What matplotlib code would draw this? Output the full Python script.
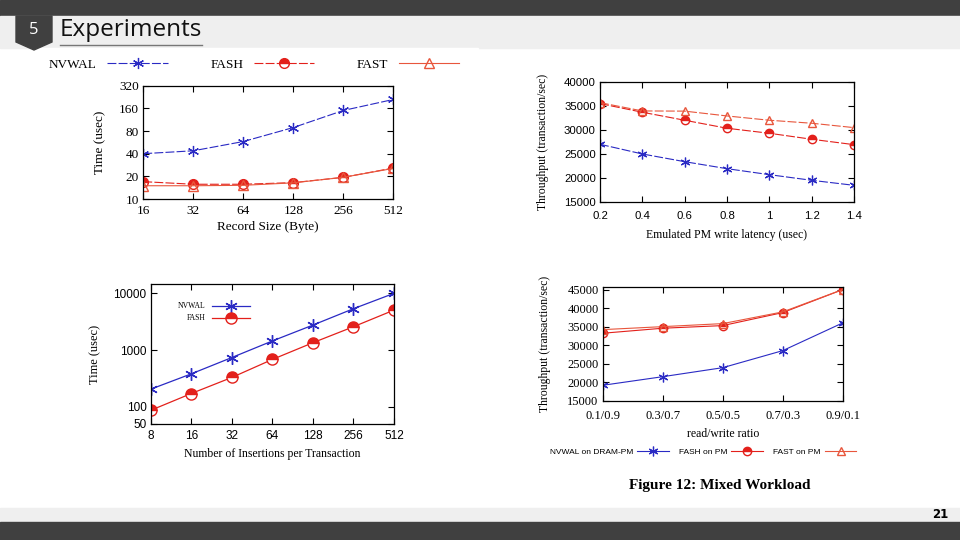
import matplotlib.pyplot as plt
import numpy as np
from matplotlib.patches import Rectangle, Polygon
from matplotlib.lines import Line2D

# ---- data ----
rec_size = [16, 32, 64, 128, 256, 512]
rec_nvwal = [40, 43.7, 58, 89, 150, 210]
rec_fash = [17, 15.7, 15.7, 16.5, 19.4, 25.8]
rec_fast = [15, 15, 15.2, 16.4, 19.4, 25.5]

lat = [0.2, 0.4, 0.6, 0.8, 1.0, 1.2, 1.4]
lat_labels = ["0.2", "0.4", "0.6", "0.8", "1", "1.2", "1.4"]
lat_nvwal = [27030, 25020, 23420, 21970, 20730, 19560, 18520]
lat_fash = [35460, 33670, 32010, 30350, 29310, 28070, 26950]
lat_fast = [35660, 33940, 33900, 32900, 32010, 31390, 30480]

ins = [8, 16, 32, 64, 128, 256, 512]
ins_nvwal = [205, 382, 740, 1450, 2760, 5360, 10000]
ins_fash = [87, 172, 330, 685, 1350, 2580, 5070]

ratio = ["0.1/0.9", "0.3/0.7", "0.5/0.5", "0.7/0.3", "0.9/0.1"]
mix_nvwal = [19170, 21500, 23940, 28550, 36060]
mix_fash = [33260, 34620, 35330, 38850, 45080]
mix_fast = [34240, 35050, 35870, 39040, 45100]

BLUE = '#2a2ac4'
RED = '#e3201b'
ORANGE = '#e8563c'
SERIF = 'Liberation Serif'
SANS = 'Liberation Sans'

W, H = 960, 540
fig = plt.figure(figsize=(9.6, 5.4), dpi=100)
fig.patch.set_facecolor('white')

def px(x, y):
    return x / W, 1 - y / H

def axes_px(x0, y0, x1, y1):
    return fig.add_axes([x0 / W, 1 - y1 / H, (x1 - x0) / W, (y1 - y0) / H])

# slide decoration
fig.add_artist(Rectangle(px(0, 16), 1, 16 / H, transform=fig.transFigure, color='#404040', zorder=0))
fig.add_artist(Rectangle(px(0, 48), 1, 32 / H, transform=fig.transFigure, color='#efefef', zorder=0))
fig.add_artist(Rectangle(px(30, 240), 448 / W, 192 / H, transform=fig.transFigure, color='white', zorder=0))
fig.add_artist(Rectangle(px(0, 522), 1, 14 / H, transform=fig.transFigure, color='#efefef', zorder=0))
fig.add_artist(Rectangle(px(0, 540), 1, 18 / H, transform=fig.transFigure, color='#404040', zorder=0))
fig.add_artist(Polygon([px(16, 16), px(52, 16), px(52, 42), px(34, 50), px(16, 42)],
                       closed=True, transform=fig.transFigure, color='#404040', zorder=1))
fig.text(*px(34, 30), "5", color='white', fontsize=12, family='Open Sans', ha='center', va='center')
fig.text(*px(60, 30), "Experiments", color='#111111', fontsize=17.5, family='Open Sans', ha='left', va='center')
fig.add_artist(Line2D([60 / W, 202 / W], [1 - 45 / H, 1 - 45 / H], transform=fig.transFigure,
                      color='#777777', lw=1))
fig.text(*px(940, 515), "21", color='black', fontsize=8.5, family='DejaVu Sans', weight='bold',
         ha='center', va='center')

def style(ax, size=8, family=SERIF, xpad=3):
    ax.tick_params(which='both', direction='in', top=True, right=True, labelsize=size, length=4,
                   width=0.8, pad=3)
    ax.tick_params(axis='x', pad=xpad)
    ax.minorticks_off()
    for lab in ax.get_xticklabels() + ax.get_yticklabels():
        lab.set_family(family)
    for s in ax.spines.values():
        s.set_linewidth(0.9)

def ast():
    return (6, 2, 0)

# ---- chart 1: record size ----
ax1 = axes_px(143.3, 85.7, 393.3, 199)
ax1.plot(rec_size, rec_nvwal, color=BLUE, lw=0.8, dashes=(8, 2), marker=ast(), ms=8, mew=0.9, label='NVWAL')
ax1.plot(rec_size, rec_fash, color=RED, lw=0.8, dashes=(8, 2), marker='o', ms=7, fillstyle='top',
         markerfacecoloralt='white', mec=RED, label='FASH')
ax1.plot(rec_size, rec_fast, color=ORANGE, lw=0.8, marker='^', ms=7, mfc='none', mec=ORANGE, label='FAST')
ax1.set_xscale('log', base=2)
ax1.set_yscale('log', base=2)
ax1.set_xlim(16, 512)
ax1.set_ylim(10, 320)
ax1.set_xticks(rec_size, [str(v) for v in rec_size])
ax1.set_yticks([10, 20, 40, 80, 160, 320], ["10", "20", "40", "80", "160", "320"])
style(ax1, 9.5, xpad=4)
ax1.set_xlabel("Record Size (Byte)", family=SERIF, fontsize=9.5, labelpad=3)
ax1.set_ylabel("Time (usec)", family=SERIF, fontsize=9.5, labelpad=9)
fig.legend(*ax1.get_legend_handles_labels(), loc='center', bbox_to_anchor=(254 / W, 1 - 65 / H), ncol=3,
           markerfirst=False, frameon=False, prop={'family': SERIF, 'size': 9.5}, handlelength=4.6,
           columnspacing=3.2, handletextpad=0.8, borderaxespad=0)

# ---- chart 2: write latency ----
ax2 = axes_px(600, 81.7, 854, 202.3)
ax2.plot(lat, lat_nvwal, color=BLUE, lw=0.8, dashes=(8, 2), marker=ast(), ms=7, mew=0.9)
ax2.plot(lat, lat_fash, color=RED, lw=0.8, dashes=(8, 2), marker='o', ms=6, fillstyle='top',
         markerfacecoloralt='white', mec=RED)
ax2.plot(lat, lat_fast, color=ORANGE, lw=0.8, dashes=(8, 2), marker='^', ms=6, mfc='none', mec=ORANGE)
ax2.set_xlim(0.2, 1.4)
ax2.set_ylim(15000, 40000)
ax2.set_xticks(lat, lat_labels)
ax2.set_yticks(np.arange(15000, 40001, 5000))
style(ax2, 8.2, SANS, xpad=6)
ax2.set_xlabel("Emulated PM write latency (usec)", family=SERIF, fontsize=8.5, labelpad=6)
ax2.set_ylabel("Throughput (transaction/sec)", family=SERIF, fontsize=8.5, labelpad=11)

# ---- chart 3: insertions per transaction ----
ax3 = axes_px(150.7, 284, 394, 424)
ax3.plot(ins, ins_nvwal, color=BLUE, lw=0.9, marker=ast(), ms=9, mew=1.0, label='NVWAL')
ax3.plot(ins, ins_fash, color=RED, lw=0.9, marker='o', ms=8, fillstyle='top',
         markerfacecoloralt='white', mec=RED, label='FASH')
ax3.set_xscale('log', base=2)
ax3.set_yscale('log')
ax3.set_xlim(8, 512)
ax3.set_ylim(50, 14600)
ax3.set_xticks(ins, [str(v) for v in ins])
ax3.set_yticks([50, 100, 1000, 10000], ["50", "100", "1000", "10000"])
style(ax3, 8.5, SANS, xpad=4)
ax3.set_xlabel("Number of Insertions per Transaction", family=SERIF, fontsize=8.5, labelpad=5)
ax3.set_ylabel("Time (usec)", family=SERIF, fontsize=9, labelpad=9)
ax3.legend(loc='upper left', bbox_to_anchor=(0.1, 0.89), markerfirst=False, frameon=False,
           prop={'family': SERIF, 'size': 5.5}, handlelength=5, handletextpad=0.8, labelspacing=0.5,
           borderaxespad=0)

# ---- chart 4: mixed workload ----
ax4 = axes_px(602.7, 287.3, 842.7, 400.7)
xr = np.arange(len(ratio))
ax4.plot(xr, mix_nvwal, color=BLUE, lw=0.8, marker=ast(), ms=7, mew=0.9, label='NVWAL on DRAM-PM')
ax4.plot(xr, mix_fash, color=RED, lw=0.8, marker='o', ms=6, fillstyle='top',
         markerfacecoloralt='white', mec=RED, label='FASH on PM')
ax4.plot(xr, mix_fast, color=ORANGE, lw=0.8, marker='^', ms=6, mfc='none', mec=ORANGE, label='FAST on PM')
ax4.set_xlim(0, 4)
ax4.set_ylim(15000, 45700)
ax4.set_xticks(xr, ratio)
ax4.set_yticks(np.arange(15000, 45001, 5000))
style(ax4, 9, SERIF, xpad=7)
ax4.set_xlabel("read/write ratio", family=SERIF, fontsize=8.5, labelpad=4)
ax4.set_ylabel("Throughput (transaction/sec)", family=SERIF, fontsize=8.5, labelpad=12)
fig.legend(*ax4.get_legend_handles_labels(), loc='center', bbox_to_anchor=(703 / W, 1 - 452 / H), ncol=3,
           markerfirst=False, frameon=False, prop={'family': SANS, 'size': 6}, handlelength=3.8,
           columnspacing=1.2, handletextpad=0.5, borderaxespad=0)
fig.text(*px(720, 485), "Figure 12: Mixed Workload", family=SERIF, weight='bold', fontsize=11,
         ha='center', va='center')

fig.savefig("out.png", dpi=100)
